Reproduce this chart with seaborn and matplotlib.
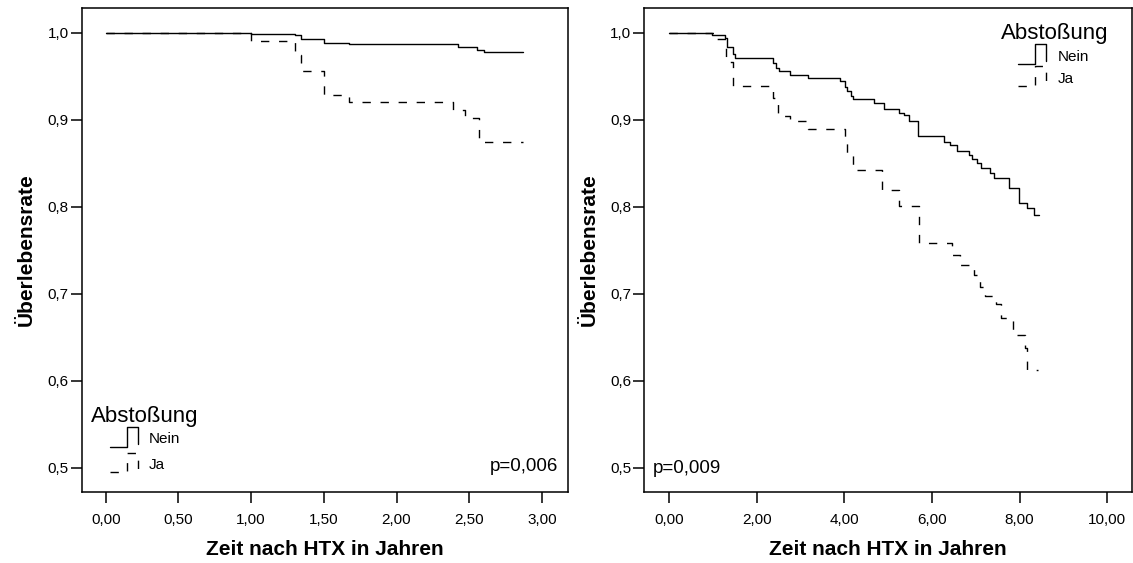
import matplotlib
matplotlib.use("Agg")
import matplotlib.pyplot as plt
import pandas as pd
import seaborn as sns
from matplotlib.legend_handler import HandlerLine2D
from matplotlib.lines import Line2D
from matplotlib.ticker import FuncFormatter

# Kaplan-Meier Schritte
left_nein_t = [0.00, 1.00, 1.30, 1.34, 1.50, 1.675, 2.42, 2.55, 2.60, 2.87]
left_nein_s = [1.000, 0.9989, 0.9977, 0.993, 0.9885, 0.9866, 0.9835, 0.980, 0.9778, 0.9778]
left_ja_t = [0.00, 1.00, 1.30, 1.34, 1.50, 1.675, 2.39, 2.47, 2.57, 2.87]
left_ja_s = [1.000, 0.991, 0.9747, 0.9555, 0.9287, 0.9203, 0.9115, 0.902, 0.8747, 0.8747]

right_nein_t = [0.00, 0.97, 1.27, 1.32, 1.46, 1.50, 2.37, 2.45, 2.52, 2.75, 3.16, 3.90,
                4.02, 4.07, 4.15, 4.20, 4.68, 4.90, 5.25, 5.36, 5.48, 5.68, 6.27, 6.42,
                6.57, 6.84, 6.91, 7.03, 7.11, 7.33, 7.41, 7.75, 7.98, 8.17, 8.32, 8.45]
right_nein_s = [1.000, 0.9977, 0.994, 0.984, 0.975, 0.971, 0.965, 0.959, 0.9555, 0.9517, 0.948, 0.944,
                0.938, 0.9326, 0.927, 0.924, 0.919, 0.912, 0.908, 0.905, 0.899, 0.881, 0.875, 0.871,
                0.8647, 0.860, 0.855, 0.850, 0.8445, 0.839, 0.833, 0.8215, 0.804, 0.7985, 0.791, 0.791]
right_ja_t = [0.00, 1.02, 1.30, 1.46, 2.37, 2.48, 2.75, 3.18, 4.02, 4.07, 4.20, 4.87,
              5.25, 5.70, 6.45, 6.65, 6.95, 7.10, 7.22, 7.45, 7.57, 7.85, 8.12, 8.17, 8.43]
right_ja_s = [1.000, 0.993, 0.966, 0.939, 0.925, 0.904, 0.899, 0.889, 0.874, 0.859, 0.8425, 0.819,
              0.8015, 0.758, 0.745, 0.733, 0.722, 0.708, 0.698, 0.688, 0.672, 0.653, 0.638, 0.613, 0.613]

groups = ["Nein", "Ja"]
p_values = ["p=0,006", "p=0,009"]
left_xticks = [0.0, 0.5, 1.0, 1.5, 2.0, 2.5, 3.0]
right_xticks = [0, 2, 4, 6, 8, 10]
yticks = [0.5, 0.6, 0.7, 0.8, 0.9, 1.0]

sns.set_style("ticks")
plt.rcParams.update({"font.family": ["Liberation Sans", "DejaVu Sans"],
                     "axes.linewidth": 1.1,
                     "axes.edgecolor": "black",
                     "axes.labelcolor": "black",
                     "text.color": "black",
                     "xtick.color": "black",
                     "ytick.color": "black",
                     })

DASH = (0, (6, 7))
STYLES = {"Nein": "-", "Ja": DASH}


class StepHandler(HandlerLine2D):
    # SPSS-artiges Treppensymbol in der Legende
    def create_artists(self, legend, orig_handle, xdescent, ydescent, width, height, fontsize, trans):
        x0, y0 = -xdescent, -ydescent
        h = height + ydescent
        xs = [x0, x0 + 0.62 * width, x0 + 0.62 * width, x0 + width, x0 + width]
        ys = [y0, y0, y0 + h, y0 + h, y0 + 0.15 * h]
        line = Line2D(xs, ys)
        line.update_from(orig_handle)
        line.set_transform(trans)
        return [line]


def make_df(nein_t, nein_s, ja_t, ja_s):
    return pd.concat([pd.DataFrame({"t": nein_t, "s": nein_s, "gruppe": "Nein"}),
                      pd.DataFrame({"t": ja_t, "s": ja_s, "gruppe": "Ja"})])


def km_panel(ax, df, xlim, xticks, p_text, p_pos, p_ha, title_pos, leg_pos, leg_space):
    for g in groups:
        sub = df[df["gruppe"] == g]
        sns.lineplot(data=sub, x="t", y="s", ax=ax, estimator=None, errorbar=None,
                     drawstyle="steps-post", color="black", linewidth=1.0,
                     linestyle=STYLES[g])

    ax.set_xlim(*xlim)
    ax.set_ylim(0.4724, 1.0284)
    ax.set_xticks(xticks)
    ax.set_yticks(yticks)
    ax.xaxis.set_major_formatter(FuncFormatter(lambda v, _: f"{v:.2f}".replace(".", ",")))
    ax.yaxis.set_major_formatter(FuncFormatter(lambda v, _: f"{v:.1f}".replace(".", ",")))
    ax.tick_params(axis="x", direction="out", length=8, width=1.1, pad=7, labelsize=11)
    ax.tick_params(axis="y", direction="out", length=8, width=1.1, pad=1.5, labelsize=11)
    for side in ["top", "right", "left", "bottom"]:
        ax.spines[side].set_visible(True)

    ax.set_xlabel("Zeit nach HTX in Jahren", fontsize=15, fontweight="bold")
    ax.set_ylabel("Überlebensrate", fontsize=15, fontweight="bold")
    ax.xaxis.set_label_coords(0.5, -0.10)
    ax.yaxis.set_label_coords(-0.094, 0.5)

    ax.text(p_pos[0], p_pos[1], p_text, transform=ax.transAxes, fontsize=13.5,
            ha=p_ha, va="center")

    # Legende: Titel als Text, Eintraege mit Treppensymbol
    ax.text(title_pos[0], title_pos[1], "Abstoßung", transform=ax.transAxes,
            fontsize=16, ha="left", va="baseline")
    handles = [Line2D([], [], color="black", linewidth=1.0, linestyle=STYLES[g]) for g in groups]
    ax.legend(handles, groups, handler_map={Line2D: StepHandler()},
              loc="upper left", bbox_to_anchor=leg_pos, frameon=False,
              borderpad=0, borderaxespad=0, fontsize=11, handlelength=1.83,
              handleheight=1.3, handletextpad=0.75, labelspacing=leg_space)


fig = plt.figure(figsize=(11.33, 5.63), dpi=100)
ax1 = fig.add_axes([81.7 / 1133, 71 / 563, 486 / 1133, 484 / 563])
ax2 = fig.add_axes([644.3 / 1133, 71 / 563, 487.4 / 1133, 484 / 563])

km_panel(ax1, make_df(left_nein_t, left_nein_s, left_ja_t, left_ja_s),
         (-0.165, 3.177), left_xticks, p_values[0], (0.981, 0.052), "right",
         (0.02, 0.145), (0.0577, 0.128), 0.59)
km_panel(ax2, make_df(right_nein_t, right_nein_s, right_ja_t, right_ja_s),
         (-0.564, 10.557), right_xticks, p_values[1], (0.018, 0.048), "left",
         (0.731, 0.936), (0.767, 0.919), 0.36)

fig.savefig("out.png", dpi=100)
